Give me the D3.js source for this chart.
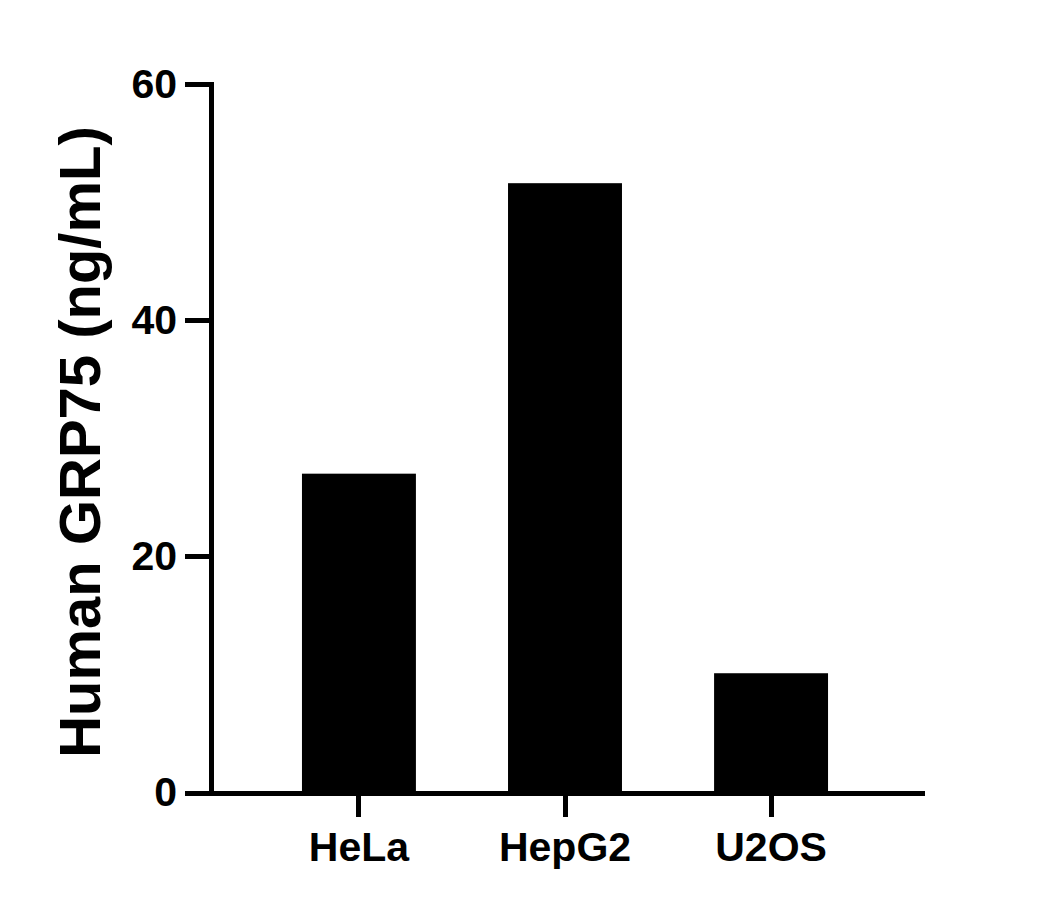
<!DOCTYPE html>
<html>
<head>
    <title>Human GRP75</title>
    <script src="https://d3js.org/d3.v7.min.js"></script>
    <style>
        body { margin: 0; background: #fff; }
        .axis path,
        .axis line {
            fill: none;
            stroke: #000;
            stroke-width: 5;
            shape-rendering: crispEdges;
        }
        .axis text {
            font-family: "Liberation Sans", Arial, sans-serif;
            font-size: 41px;
            font-weight: bold;
            fill: #000;
        }
        .bar { fill: #000; }
        .axis-title {
            font-family: "Liberation Sans", Arial, sans-serif;
            font-size: 58px;
            font-weight: bold;
            text-anchor: middle;
        }
    </style>
</head>
<body>
<div id="chart"></div>
<script>
    // data
    const cellLines = ["HeLa", "HepG2", "U2OS"];
    const grp75 = [27.0, 51.6, 10.1];
    const yTicks = [0, 20, 40, 60];

    const width = 1053, height = 910;

    const svg = d3.select("#chart").append("svg")
        .attr("width", width)
        .attr("height", height);

    // scales (pixel ranges)
    const x = d3.scaleBand()
        .domain(cellLines)
        .range([208, 922])
        .paddingInner(0.447)
        .paddingOuter(0.456);

    const y = d3.scaleLinear()
        .domain([0, 60])
        .range([792.5, 84]);

    // bars
    svg.selectAll(".bar")
        .data(cellLines.map((c, i) => ({ name: c, value: grp75[i] })))
        .enter()
        .append("rect")
        .attr("class", "bar")
        .attr("x", d => x(d.name))
        .attr("y", d => y(d.value))
        .attr("width", x.bandwidth())
        .attr("height", d => y(0) - y(d.value));

    // y axis
    svg.append("g")
        .attr("class", "y axis")
        .attr("transform", "translate(211,0)")
        .call(d3.axisLeft(y)
            .tickValues(yTicks)
            .tickSize(26)
            .tickSizeOuter(0)
            .tickPadding(8));

    // x axis
    svg.append("g")
        .attr("class", "x axis")
        .attr("transform", `translate(0,${y(0)})`)
        .call(d3.axisBottom(x)
            .tickSize(24)
            .tickSizeOuter(0)
            .tickPadding(15));

    // extend y axis line to cover tick ends cleanly
    svg.selectAll(".axis .domain").attr("stroke-linecap", "square");

    // y axis title
    svg.append("text")
        .attr("class", "axis-title")
        .attr("transform", "translate(100,442) rotate(-90)")
        .text("Human GRP75 (ng/mL)");
</script>
</body>
</html>
